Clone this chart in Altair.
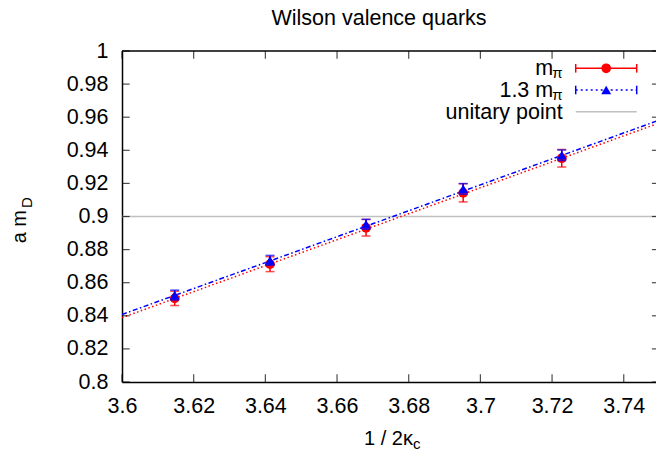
import altair as alt
import pandas as pd

# ---- data ----
x_vals = [3.6147, 3.6413, 3.6681, 3.6952, 3.7227]
mpi_vals = [0.8505, 0.8712, 0.8932, 0.9143, 0.9352]
mpi_err = [0.0043, 0.0045, 0.0050, 0.0055, 0.0053]
m13_vals = [0.8525, 0.8735, 0.8953, 0.9167, 0.9370]
m13_err = [0.0030, 0.0030, 0.0030, 0.0032, 0.0032]

fit_x = [3.60, 3.75]
fit_mpi = [0.8389, 0.9566]
fit_m13 = [0.8408, 0.9583]
unitary_y = [0.9]

x_ticks = [3.6, 3.62, 3.64, 3.66, 3.68, 3.7, 3.72, 3.74]
y_ticks = [0.8, 0.82, 0.84, 0.86, 0.88, 0.9, 0.92, 0.94, 0.96, 0.98, 1.0]
x_range = [3.6, 3.749]
y_range = [0.8, 1.0]
x_right_border = [3.75]

title_text = "Wilson valence quarks"
legend_main = ["m", "1.3 m", "unitary point"]
legend_sub = ["π", "π", ""]

FONT = "Liberation Sans"
FS = 21.5
FSUB = 15
RED = "#ff0000"
BLUE = "#0000ff"
GREY = "#c0c0c0"

# ---- tables ----
pts = pd.DataFrame({
    "x": x_vals,
    "mpi": mpi_vals,
    "mpi_lo": [v - e for v, e in zip(mpi_vals, mpi_err)],
    "mpi_hi": [v + e for v, e in zip(mpi_vals, mpi_err)],
    "m13": m13_vals,
    "m13_lo": [v - e for v, e in zip(m13_vals, m13_err)],
    "m13_hi": [v + e for v, e in zip(m13_vals, m13_err)],
})
fits = pd.DataFrame({"x": fit_x, "mpi": fit_mpi, "m13": fit_m13})

xs = alt.Scale(domain=x_range, nice=False, zero=False)
ys = alt.Scale(domain=y_range, nice=False, zero=False)

xaxis = alt.Axis(values=x_ticks, format="~g", title=None, grid=False,
                 ticks=False, tickSize=0, labelFont=FONT, labelFontSize=FS,
                 labelColor="black", labelPadding=30, labelBaseline="alphabetic",
                 labelFlush=False, labelOverlap=False, domainColor="black",
                 domainWidth=1.5)
yaxis = alt.Axis(values=y_ticks, format="~g", title=None, grid=False,
                 ticks=False, tickSize=0, labelFont=FONT, labelFontSize=FS,
                 labelColor="black", labelPadding=14, labelFlush=False,
                 labelOverlap=False, domainColor="black", domainWidth=1.5)


def X(f):
    return alt.X(f, type="quantitative", scale=xs, axis=xaxis)


def Y(f):
    return alt.Y(f, type="quantitative", scale=ys, axis=yaxis)


one = pd.DataFrame({"a": [0]})

layers = []

# unitary point line
layers.append(alt.Chart(pd.DataFrame({"y": unitary_y})).mark_rule(
    color=GREY, strokeWidth=1.5).encode(y=Y("y")))

# fit lines
layers.append(alt.Chart(fits).mark_line(
    color=RED, strokeWidth=1.5, strokeDash=[1.5, 2.5], clip=True).encode(
    x=X("x"), y=Y("mpi")))
layers.append(alt.Chart(fits).mark_line(
    color=BLUE, strokeWidth=1.5, strokeDash=[5, 2.5, 1.5, 2.5], clip=True).encode(
    x=X("x"), y=Y("m13")))

# m_pi error bars + points
layers.append(alt.Chart(pts).mark_rule(color=RED, strokeWidth=1.5).encode(
    x=X("x"), y=Y("mpi_lo"), y2="mpi_hi"))
layers.append(alt.Chart(pts).mark_tick(color=RED, orient="horizontal", size=9,
                                       thickness=1.5).encode(x=X("x"), y=Y("mpi_lo")))
layers.append(alt.Chart(pts).mark_tick(color=RED, orient="horizontal", size=9,
                                       thickness=1.5).encode(x=X("x"), y=Y("mpi_hi")))
layers.append(alt.Chart(pts).mark_point(shape="circle", filled=True, size=95,
                                        color=RED, opacity=1).encode(x=X("x"), y=Y("mpi")))

# 1.3 m_pi error bars + points
layers.append(alt.Chart(pts).mark_rule(color=BLUE, strokeWidth=1.5).encode(
    x=X("x"), y=Y("m13_lo"), y2="m13_hi"))
layers.append(alt.Chart(pts).mark_tick(color=BLUE, orient="horizontal", size=9,
                                       thickness=1.5).encode(x=X("x"), y=Y("m13_lo")))
layers.append(alt.Chart(pts).mark_tick(color=BLUE, orient="horizontal", size=9,
                                       thickness=1.5).encode(x=X("x"), y=Y("m13_hi")))
layers.append(alt.Chart(pts).mark_point(shape="triangle-up", filled=True, size=100,
                                        color=BLUE, opacity=1).encode(x=X("x"), y=Y("m13")))

# top border
layers.append(alt.Chart(pd.DataFrame({"y": [y_range[1]]})).mark_rule(
    color="black", strokeWidth=1.5).encode(y=Y("y")))

# inward ticks (gnuplot style)
TL = 7.7
layers.append(alt.Chart(pd.DataFrame({"x": x_ticks, "y": y_range[0]})).mark_tick(
    color="black", orient="vertical", size=TL, thickness=1.2, yOffset=-TL / 2).encode(
    x=X("x"), y=Y("y")))
layers.append(alt.Chart(pd.DataFrame({"x": x_ticks, "y": y_range[1]})).mark_tick(
    color="black", orient="vertical", size=TL, thickness=1.2, yOffset=TL / 2).encode(
    x=X("x"), y=Y("y")))
layers.append(alt.Chart(pd.DataFrame({"x": x_range[0], "y": y_ticks})).mark_tick(
    color="black", orient="horizontal", size=TL, thickness=1.2, xOffset=TL / 2).encode(
    x=X("x"), y=Y("y")))
layers.append(alt.Chart(pd.DataFrame({"x": x_right_border[0], "y": y_ticks})).mark_tick(
    color="black", orient="horizontal", size=TL, thickness=1.2, xOffset=-TL / 2).encode(
    x=X("x"), y=Y("y")))

# ---- legend (drawn by hand, gnuplot key) ----
rows = [17.3, 39.0, 60.7]
lx1, lx2, lmk = 453.7, 514.7, 484.2
txt_r = 440.7
cap = 4.3

# row 1: m_pi
layers.append(alt.Chart(one).mark_rule(color=RED, strokeWidth=1.5).encode(
    x=alt.value(lx1), x2=alt.value(lx2), y=alt.value(rows[0])))
for cx in (lx1, lx2):
    layers.append(alt.Chart(one).mark_rule(color=RED, strokeWidth=1.5).encode(
        x=alt.value(cx), y=alt.value(rows[0] - cap), y2=alt.value(rows[0] + cap)))
layers.append(alt.Chart(one).mark_point(shape="circle", filled=True, size=95,
                                        color=RED, opacity=1).encode(
    x=alt.value(lmk), y=alt.value(rows[0])))
# row 2: 1.3 m_pi
layers.append(alt.Chart(one).mark_rule(color=BLUE, strokeWidth=1.5, strokeDash=[2, 3]).encode(
    x=alt.value(lx1), x2=alt.value(lx2), y=alt.value(rows[1])))
for cx in (lx1, lx2):
    layers.append(alt.Chart(one).mark_rule(color=BLUE, strokeWidth=1.5).encode(
        x=alt.value(cx), y=alt.value(rows[1] - cap), y2=alt.value(rows[1] + cap)))
layers.append(alt.Chart(one).mark_point(shape="triangle-up", filled=True, size=100,
                                        color=BLUE, opacity=1).encode(
    x=alt.value(lmk), y=alt.value(rows[1])))
# row 3: unitary point
layers.append(alt.Chart(one).mark_rule(color=GREY, strokeWidth=1.5).encode(
    x=alt.value(lx1), x2=alt.value(lx2), y=alt.value(rows[2])))

# legend texts
for i in range(3):
    base = rows[i] + 6.7
    if legend_sub[i]:
        layers.append(alt.Chart(one).mark_text(
            text=legend_sub[i], font=FONT, fontSize=FSUB, align="right",
            baseline="alphabetic", color="black").encode(
            x=alt.value(txt_r), y=alt.value(base + 3.3)))
        layers.append(alt.Chart(one).mark_text(
            text=legend_main[i], font=FONT, fontSize=FS, align="right",
            baseline="alphabetic", color="black").encode(
            x=alt.value(txt_r - 9.5), y=alt.value(base)))
    else:
        layers.append(alt.Chart(one).mark_text(
            text=legend_main[i], font=FONT, fontSize=FS, align="right",
            baseline="alphabetic", color="black").encode(
            x=alt.value(txt_r), y=alt.value(base + 0.5)))

# title
layers.append(alt.Chart(one).mark_text(
    text=title_text, font=FONT, fontSize=FS, align="center",
    baseline="alphabetic", color="black").encode(x=alt.value(257), y=alt.value(-26)))

# y axis title: a m_D
layers.append(alt.Chart(one).mark_text(
    text="a m", font=FONT, fontSize=20, align="right", angle=270,
    baseline="alphabetic", color="black").encode(x=alt.value(-96), y=alt.value(159)))
layers.append(alt.Chart(one).mark_text(
    text="D", font=FONT, fontSize=15, align="left", angle=270,
    baseline="alphabetic", color="black").encode(x=alt.value(-90), y=alt.value(157)))

# x axis title: 1 / 2kappa_c
layers.append(alt.Chart(one).mark_text(
    text="1 / 2κ", font=FONT, fontSize=20, align="left",
    baseline="alphabetic", color="black").encode(x=alt.value(242), y=alt.value(394)))
layers.append(alt.Chart(one).mark_text(
    text="c", font=FONT, fontSize=15, align="left",
    baseline="alphabetic", color="black").encode(x=alt.value(291), y=alt.value(398)))

chart = alt.layer(*layers).properties(
    width=534, height=331,
    autosize=alt.AutoSizeParams(type="none"),
    padding={"left": 122, "top": 51, "right": 0, "bottom": 70},
    background="white",
).configure_view(stroke=None)

chart.save("out.html", embed_options={"renderer": "svg", "actions": False})
